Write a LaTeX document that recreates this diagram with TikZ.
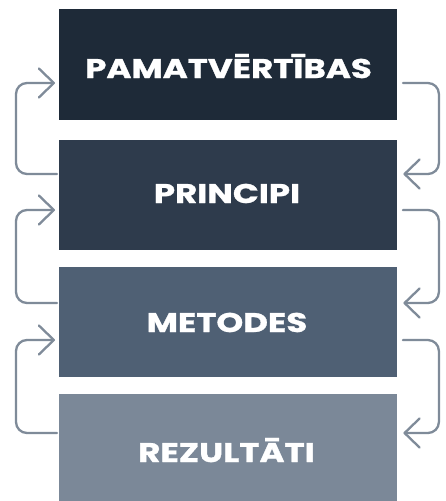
\documentclass[tikz,border=0pt]{standalone}
\usepackage{fontspec}
\newfontfamily\boxfont{Poppins}[BoldFeatures={FakeBold=1}]
\usetikzlibrary{arrows.meta,calc}
\definecolor{cA}{HTML}{1E2A38}
\definecolor{cB}{HTML}{2E3B4C}
\definecolor{cC}{HTML}{4F6074}
\definecolor{cD}{HTML}{7B8898}
\definecolor{cArr}{HTML}{7F8B99}
\newcommand{\widetxt}[1]{\scalebox{1.26}[1]{#1}}
\tikzset{
  box/.style={fill=#1, draw=none, inner sep=0pt, anchor=north west, minimum width=338pt},
  lbl/.style={anchor=base, text=white, inner sep=0pt, font=\boxfont\bfseries\fontsize{27}{29}\selectfont},
  arr/.style={draw=cArr, line width=2.3pt, line cap=round, line join=round, rounded corners=11pt,
    -{Straight Barb[length=15pt,width=29pt,line width=2.3pt,round]}},
}
\begin{document}
\begin{tikzpicture}[x=1pt,y=-1pt]
\useasboundingbox (0,0) rectangle (445,501);
\fill[white] (0,0) rectangle (445,501);
\node[box=cA, minimum height=111pt] (n1) at (58.5,8.5) {};
\node[box=cB, minimum height=110pt] (n2) at (58.5,139.5) {};
\node[box=cC, minimum height=110pt] (n3) at (58.5,266.5) {};
\node[box=cD, minimum height=107pt] (n4) at (58.5,394) {};
\node[lbl] (t1) at (228.5,78) {\widetxt{PAMATVĒRTĪBAS}};
\node[lbl] (t2) at (227,203) {\widetxt{PRINCIPI}};
\node[lbl] (t3) at (227,332) {\widetxt{METODES}};
\node[lbl] (t4) at (226.5,462) {\widetxt{REZULTĀTI}};
% left (upward) connectors
\draw[arr] ($(n2.west|-0,174)+(-1.5pt,0)$) -- ++(-41pt,0) |- ($(n1.west|-0,83)+(-3.5pt,0)$);
\draw[arr] ($(n3.west|-0,303)+(-1.5pt,0)$) -- ++(-41pt,0) |- ($(n2.west|-0,210)+(-3.5pt,0)$);
\draw[arr] ($(n4.west|-0,433)+(-1.5pt,0)$) -- ++(-41pt,0) |- ($(n3.west|-0,340)+(-3.5pt,0)$);
% right (downward) connectors
\draw[arr] ($(n1.east|-0,83)+(6pt,0)$) -- ++(36pt,0) |- ($(n2.east|-0,174)+(6.5pt,0)$);
\draw[arr] ($(n2.east|-0,210)+(6pt,0)$) -- ++(36pt,0) |- ($(n3.east|-0,303)+(6.5pt,0)$);
\draw[arr] ($(n3.east|-0,340)+(6pt,0)$) -- ++(36pt,0) |- ($(n4.east|-0,433)+(6.5pt,0)$);
\end{tikzpicture}
\end{document}
